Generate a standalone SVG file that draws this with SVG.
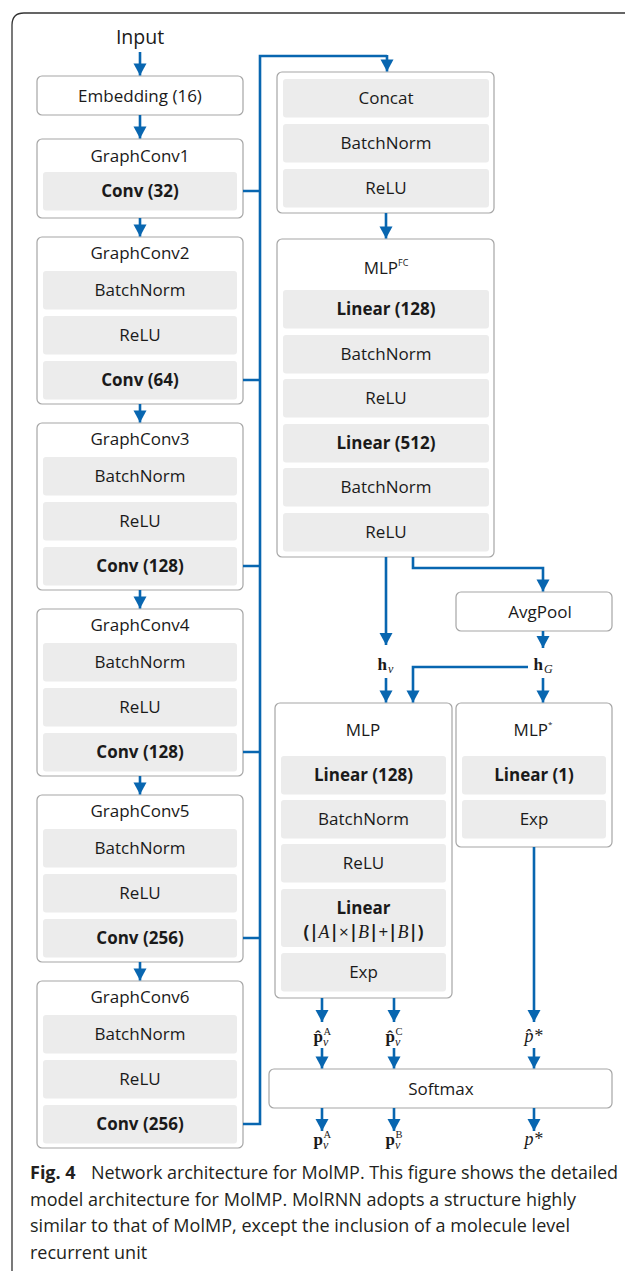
<svg xmlns="http://www.w3.org/2000/svg" width="625" height="1271" viewBox="0 0 625 1271">
<style>
.box{fill:#fff;stroke:#a6a6a6;stroke-width:1.2}
.in{fill:#ececec;stroke:none}
.t{font-family:"Open Sans","Noto Sans",sans-serif;font-size:17px;fill:#1a1a1a;text-anchor:middle}
.b{font-weight:bold}
.c{fill:none;stroke:#0866b0;stroke-width:2.6}
.m{font-family:"Liberation Serif","DejaVu Serif",serif;fill:#1a1a1a}
.cap{font-family:"Open Sans","Noto Sans",sans-serif;font-size:18px;fill:#231f20}
</style>
<defs>
<marker id="ah" markerUnits="userSpaceOnUse" markerWidth="14" markerHeight="14" viewBox="0 0 14 14" refX="13" refY="7" orient="auto">
<path d="M1,0.5 L13,7 L1,13.5 Z" fill="#0866b0"/>
</marker>
</defs>
<path d="M12,1271 V25 Q12,13 24,13 H625" fill="none" stroke="#333" stroke-width="1.3"/>

<text class="t" x="140" y="44" style="font-size:19.5px">Input</text>

<g id="embedding"><rect class="box" x="37" y="76" width="206" height="39" rx="5"/><text class="t" x="140" y="101.5">Embedding (16)</text></g>

<g id="gc1"><rect class="box" x="37" y="139" width="206" height="79" rx="5"/><text class="t" x="140" y="162">GraphConv1</text>
<rect class="in" x="43" y="172" width="194" height="38.5" rx="3"/><text class="t b" x="140" y="197">Conv (32)</text></g>

<g id="gc2"><rect class="box" x="37" y="237" width="206" height="167" rx="5"/><text class="t" x="140" y="259">GraphConv2</text>
<rect class="in" x="43" y="271" width="194" height="38.5" rx="3"/><text class="t" x="140" y="296">BatchNorm</text>
<rect class="in" x="43" y="316" width="194" height="38.5" rx="3"/><text class="t" x="140" y="341">ReLU</text>
<rect class="in" x="43" y="361" width="194" height="38.5" rx="3"/><text class="t b" x="140" y="386">Conv (64)</text></g>

<g id="gc3"><rect class="box" x="37" y="423" width="206" height="167" rx="5"/><text class="t" x="140" y="445">GraphConv3</text>
<rect class="in" x="43" y="457" width="194" height="38.5" rx="3"/><text class="t" x="140" y="482">BatchNorm</text>
<rect class="in" x="43" y="502" width="194" height="38.5" rx="3"/><text class="t" x="140" y="527">ReLU</text>
<rect class="in" x="43" y="547" width="194" height="38.5" rx="3"/><text class="t b" x="140" y="572">Conv (128)</text></g>

<g id="gc4"><rect class="box" x="37" y="609" width="206" height="167" rx="5"/><text class="t" x="140" y="631">GraphConv4</text>
<rect class="in" x="43" y="643" width="194" height="38.5" rx="3"/><text class="t" x="140" y="668">BatchNorm</text>
<rect class="in" x="43" y="688" width="194" height="38.5" rx="3"/><text class="t" x="140" y="713">ReLU</text>
<rect class="in" x="43" y="733" width="194" height="38.5" rx="3"/><text class="t b" x="140" y="758">Conv (128)</text></g>

<g id="gc5"><rect class="box" x="37" y="795" width="206" height="167" rx="5"/><text class="t" x="140" y="817">GraphConv5</text>
<rect class="in" x="43" y="829" width="194" height="38.5" rx="3"/><text class="t" x="140" y="854">BatchNorm</text>
<rect class="in" x="43" y="874" width="194" height="38.5" rx="3"/><text class="t" x="140" y="899">ReLU</text>
<rect class="in" x="43" y="919" width="194" height="38.5" rx="3"/><text class="t b" x="140" y="944">Conv (256)</text></g>

<g id="gc6"><rect class="box" x="37" y="981" width="206" height="167" rx="5"/><text class="t" x="140" y="1003">GraphConv6</text>
<rect class="in" x="43" y="1015" width="194" height="38.5" rx="3"/><text class="t" x="140" y="1040">BatchNorm</text>
<rect class="in" x="43" y="1060" width="194" height="38.5" rx="3"/><text class="t" x="140" y="1085">ReLU</text>
<rect class="in" x="43" y="1105" width="194" height="38.5" rx="3"/><text class="t b" x="140" y="1130">Conv (256)</text></g>

<g id="concat"><rect class="box" x="277" y="72" width="217" height="141" rx="5"/>
<rect class="in" x="283" y="79" width="206" height="38.5" rx="3"/><text class="t" x="386" y="104">Concat</text>
<rect class="in" x="283" y="124" width="206" height="38.5" rx="3"/><text class="t" x="386" y="149">BatchNorm</text>
<rect class="in" x="283" y="169" width="206" height="38.5" rx="3"/><text class="t" x="386" y="194">ReLU</text></g>

<g id="mlpfc"><rect class="box" x="277" y="239" width="217" height="318" rx="5"/>
<text class="t" x="386" y="274">MLP<tspan style="font-size:9px" dy="-8">FC</tspan></text>
<rect class="in" x="283" y="290" width="206" height="38.5" rx="3"/><text class="t b" x="386" y="315">Linear (128)</text>
<rect class="in" x="283" y="335" width="206" height="38.5" rx="3"/><text class="t" x="386" y="360">BatchNorm</text>
<rect class="in" x="283" y="379" width="206" height="38.5" rx="3"/><text class="t" x="386" y="404">ReLU</text>
<rect class="in" x="283" y="424" width="206" height="38.5" rx="3"/><text class="t b" x="386" y="449">Linear (512)</text>
<rect class="in" x="283" y="468" width="206" height="38.5" rx="3"/><text class="t" x="386" y="493">BatchNorm</text>
<rect class="in" x="283" y="513" width="206" height="38.5" rx="3"/><text class="t" x="386" y="538">ReLU</text></g>

<g id="avgpool"><rect class="box" x="456" y="592" width="156" height="39" rx="5"/><text class="t" x="540" y="617.5">AvgPool</text></g>

<g id="hv"><text class="m" x="377.5" y="670" style="font-size:17px;font-weight:bold">h</text><text class="m" x="388" y="673" style="font-size:12px;font-style:italic">v</text></g>
<g id="hG"><text class="m" x="533.5" y="670" style="font-size:17px;font-weight:bold">h</text><text class="m" x="544" y="673" style="font-size:12px;font-style:italic">G</text></g>

<g id="mlp"><rect class="box" x="275" y="703" width="177" height="295" rx="5"/>
<text class="t" x="363" y="736">MLP</text>
<rect class="in" x="281" y="756" width="165" height="38.5" rx="3"/><text class="t b" x="363.5" y="781">Linear (128)</text>
<rect class="in" x="281" y="800" width="165" height="38.5" rx="3"/><text class="t" x="363.5" y="825">BatchNorm</text>
<rect class="in" x="281" y="844" width="165" height="38.5" rx="3"/><text class="t" x="363.5" y="869">ReLU</text>
<rect class="in" x="281" y="889" width="165" height="58" rx="3"/><text class="t b" x="363.5" y="914">Linear</text>
<text class="t" x="363.5" y="937.5"><tspan class="b">(|</tspan><tspan style="font-family:'Liberation Serif',serif;font-style:italic;font-size:18px">A</tspan><tspan class="b">|</tspan>×<tspan class="b">|</tspan><tspan style="font-family:'Liberation Serif',serif;font-style:italic;font-size:18px">B</tspan><tspan class="b">|</tspan>+<tspan class="b">|</tspan><tspan style="font-family:'Liberation Serif',serif;font-style:italic;font-size:18px">B</tspan><tspan class="b">|)</tspan></text>
<rect class="in" x="281" y="953" width="165" height="38.5" rx="3"/><text class="t" x="363.5" y="978">Exp</text></g>

<g id="mlpstar"><rect class="box" x="456" y="703" width="156" height="144" rx="5"/>
<text class="t" x="533" y="736">MLP<tspan style="font-size:8px" dy="-9">*</tspan></text>
<rect class="in" x="462" y="756" width="144" height="38.5" rx="3"/><text class="t b" x="534" y="781">Linear (1)</text>
<rect class="in" x="462" y="800" width="144" height="38.5" rx="3"/><text class="t" x="534" y="825">Exp</text></g>

<g id="phatA"><text class="m" x="313.5" y="1042" style="font-size:17px;font-weight:bold">p̂</text><text class="m" x="323.5" y="1035" style="font-size:10.5px">A</text><text class="m" x="323" y="1046" style="font-size:12px;font-style:italic">v</text></g>
<g id="phatC"><text class="m" x="385.5" y="1042" style="font-size:17px;font-weight:bold">p̂</text><text class="m" x="395.5" y="1035" style="font-size:10.5px">C</text><text class="m" x="395" y="1046" style="font-size:12px;font-style:italic">v</text></g>
<g id="phatstar"><text class="m" x="524.5" y="1042" style="font-size:18px;font-style:italic">p̂*</text></g>

<g id="softmax"><rect class="box" x="269" y="1069" width="343" height="39" rx="5"/><text class="t" x="441" y="1094.5">Softmax</text></g>

<g id="pA"><text class="m" x="313.5" y="1145" style="font-size:17px;font-weight:bold">p</text><text class="m" x="323.5" y="1138" style="font-size:10.5px">A</text><text class="m" x="323" y="1149" style="font-size:12px;font-style:italic">v</text></g>
<g id="pB"><text class="m" x="385.5" y="1145" style="font-size:17px;font-weight:bold">p</text><text class="m" x="395.5" y="1138" style="font-size:10.5px">B</text><text class="m" x="395" y="1149" style="font-size:12px;font-style:italic">v</text></g>
<g id="pstar"><text class="m" x="524.5" y="1145" style="font-size:18px;font-style:italic">p*</text></g>

<g id="connectors">
<path class="c" marker-end="url(#ah)" d="M140,52 V75.5"/>
<path class="c" marker-end="url(#ah)" d="M140,115 V138.5"/>
<path class="c" marker-end="url(#ah)" d="M140,218 V236.5"/>
<path class="c" marker-end="url(#ah)" d="M140,404 V422.5"/>
<path class="c" marker-end="url(#ah)" d="M140,590 V608.5"/>
<path class="c" marker-end="url(#ah)" d="M140,776 V794.5"/>
<path class="c" marker-end="url(#ah)" d="M140,962 V980.5"/>
<path class="c" d="M243,1124 H260 V56 H387"/>
<path class="c" marker-end="url(#ah)" d="M387,55 V71.5"/>
<path class="c" d="M243,191 H260 M243,380 H260 M243,566 H260 M243,752 H260 M243,938 H260"/>
<path class="c" marker-end="url(#ah)" d="M386,213 V238.5"/>
<path class="c" marker-end="url(#ah)" d="M386,557 V645"/>
<path class="c" marker-end="url(#ah)" d="M413,557 V568 H543 V591.5"/>
<path class="c" marker-end="url(#ah)" d="M543,631 V648"/>
<path class="c" marker-end="url(#ah)" d="M386,678 V702.5"/>
<path class="c" marker-end="url(#ah)" d="M528,667 H413 V702.5"/>
<path class="c" marker-end="url(#ah)" d="M543,678 V702.5"/>
<path class="c" marker-end="url(#ah)" d="M322,998 V1022"/>
<path class="c" marker-end="url(#ah)" d="M394,998 V1022"/>
<path class="c" marker-end="url(#ah)" d="M534,847 V1022"/>
<path class="c" marker-end="url(#ah)" d="M322,1048 V1068.5"/>
<path class="c" marker-end="url(#ah)" d="M394,1048 V1068.5"/>
<path class="c" marker-end="url(#ah)" d="M534,1048 V1068.5"/>
<path class="c" marker-end="url(#ah)" d="M322,1108 V1131"/>
<path class="c" marker-end="url(#ah)" d="M394,1108 V1131"/>
<path class="c" marker-end="url(#ah)" d="M534,1108 V1131"/>
</g>

<g id="caption">
<text class="cap" x="30" y="1179"><tspan font-weight="bold">Fig. 4</tspan></text>
<text class="cap" x="91" y="1179" textLength="527" lengthAdjust="spacing">Network architecture for MolMP. This figure shows the detailed</text>
<text class="cap" x="30" y="1205.5" textLength="546" lengthAdjust="spacing">model architecture for MolMP. MolRNN adopts a structure highly</text>
<text class="cap" x="30" y="1232" textLength="540" lengthAdjust="spacing">similar to that of MolMP, except the inclusion of a molecule level</text>
<text class="cap" x="30" y="1258.5">recurrent unit</text>
</g>
</svg>
